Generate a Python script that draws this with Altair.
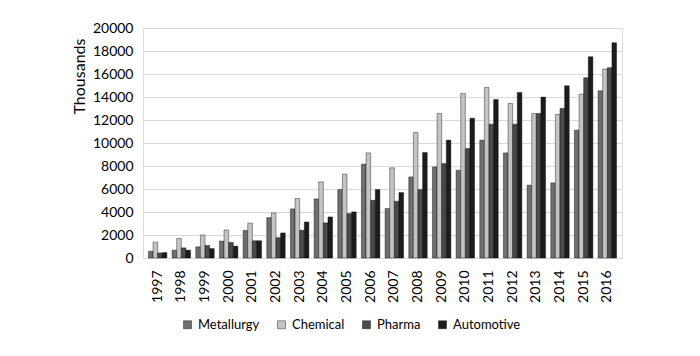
import altair as alt
import pandas as pd

years = [str(y) for y in range(1997, 2017)]
series = ["Metallurgy", "Chemical", "Pharma", "Automotive"]
metallurgy = [590, 680, 970, 1470, 2400, 3510, 4270, 5140, 5950, 8160,
              4300, 7050, 7920, 7630, 10250, 9140, 6330, 6530, 11120, 14540]
chemical = [1380, 1700, 2000, 2440, 3030, 3920, 5170, 6620, 7290, 9140,
            7840, 10910, 12570, 14310, 14830, 13440, 12570, 12480, 14250, 16430]
pharma = [440, 880, 1090, 1350, 1500, 1770, 2410, 3050, 3860, 5020,
          4930, 5950, 8210, 9520, 11640, 11640, 12570, 13000, 15670, 16550]
automotive = [470, 680, 820, 1030, 1500, 2180, 3130, 3570, 4010, 5950,
              5690, 9170, 10250, 12160, 13790, 14400, 13990, 14980, 17500, 18720]
colors = ["#6e6e6e", "#c4c4c4", "#4a4a4a", "#1c1c1c"]

rows = []
for s, vals in zip(series, [metallurgy, chemical, pharma, automotive]):
    for y, v in zip(years, vals):
        rows.append({"Year": y, "Series": s, "Value": v})
df = pd.DataFrame(rows)

FONT = "Lato"

chart = alt.Chart(df).mark_bar(stroke="#000000", strokeWidth=0.4).encode(
    x=alt.X("Year:N", sort=years,
            scale=alt.Scale(paddingInner=0.22, paddingOuter=0.23),
            axis=alt.Axis(title=None, labelAngle=-90, labelAlign="right",
                          labelBaseline="middle", labelFontSize=14,
                          labelFont=FONT, labelColor="#000000",
                          labelPadding=12, ticks=False,
                          domainColor="#d9d9d9", domainWidth=1)),
    xOffset=alt.XOffset("Series:N", sort=series),
    y=alt.Y("Value:Q", scale=alt.Scale(domain=[0, 20000]),
            axis=alt.Axis(title="Thousands", values=list(range(0, 20001, 2000)),
                          format="d", labelFontSize=14, labelFont=FONT,
                          labelColor="#000000", labelPadding=10,
                          ticks=False, domain=False,
                          gridColor="#d9d9d9", gridWidth=1,
                          titleFont=FONT, titleFontSize=16,
                          titleFontWeight="normal", titleColor="#000000",
                          titleX=-56, titleY=48, titleAngle=-90)),
    color=alt.Color("Series:N", sort=series,
                    scale=alt.Scale(domain=series, range=colors),
                    legend=alt.Legend(title=None, orient="none",
                                      direction="horizontal",
                                      legendX=38, legendY=290,
                                      symbolType="square", symbolSize=64,
                                      symbolStrokeColor="#000000",
                                      symbolStrokeWidth=0.4,
                                      labelFont=FONT, labelFontSize=13,
                                      labelColor="#000000",
                                      columnPadding=15, labelOffset=4)),
).properties(
    width=479, height=230,
    autosize=alt.AutoSizeParams(type="none"),
    padding={"left": 143, "top": 28, "right": 78, "bottom": 98},
).configure_view(stroke=None).configure(background="#ffffff")

chart.save("out.html", embed_options={"renderer": "svg", "actions": False})
